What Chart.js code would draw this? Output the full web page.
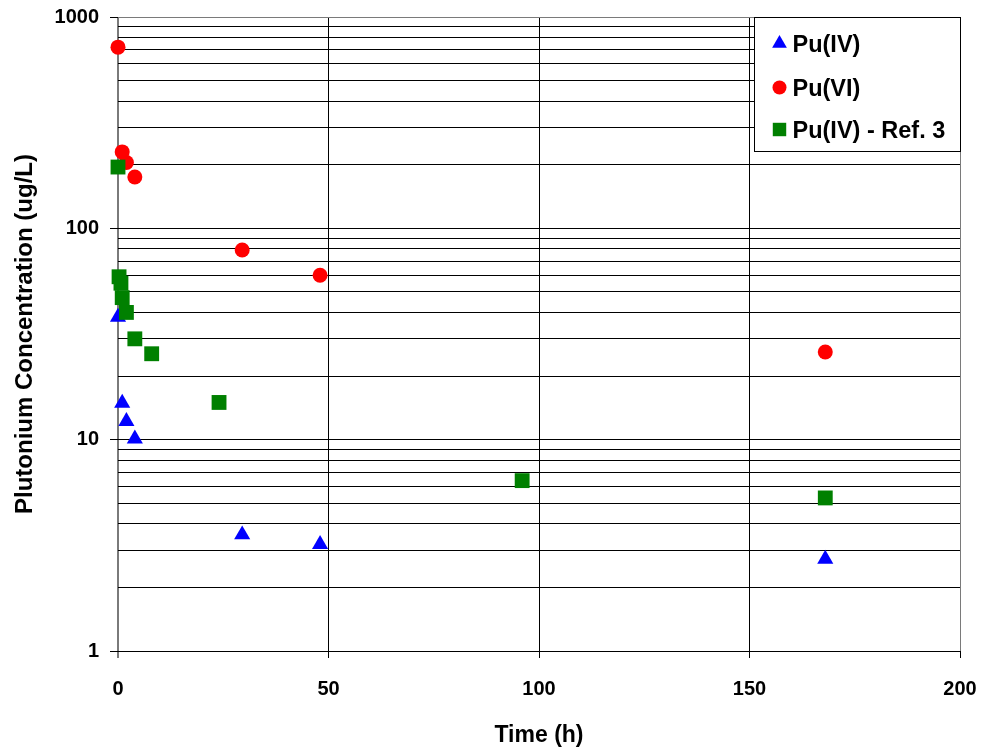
<!DOCTYPE html>
<html>
<head>
<meta charset="utf-8">
<script src="https://cdn.jsdelivr.net/npm/chart.js@4/dist/chart.umd.min.js"></script>
<style>
  html, body { margin: 0; padding: 0; background: #fff; }
  #wrap { width: 982px; height: 750px; position: relative; }
</style>
</head>
<body>
<div id="wrap"><canvas id="c" width="982" height="750"></canvas></div>
<script>
// ---- Data ----
const puIVTime = [0, 1, 2, 4, 29.5, 48, 168];
const puIVConc = [38, 14.9, 12.2, 10.1, 3.55, 3.2, 2.72];

const puVITime = [0, 1, 2, 4, 29.5, 48, 168];
const puVIConc = [720, 230, 205, 175, 79, 60, 26];

const ref3Time = [0, 0.25, 0.7, 1, 2, 4, 8, 24, 96, 168];
const ref3Conc = [195, 59, 55, 47, 40, 30, 25.5, 15, 6.4, 5.3];

const seriesNames = ["Pu(IV)", "Pu(VI)", "Pu(IV) - Ref. 3"];

const xTicks = [0, 50, 100, 150, 200];
const yTickLabels = [1, 10, 100, 1000];
const yMinorMultipliers = [1, 2, 3, 4, 5, 6, 7, 8, 9];

const xTitle = "Time (h)";
const yTitle = "Plutonium Concentration (ug/L)";

// ---- Build chart ----
const FONT = "'Liberation Sans', Arial, sans-serif";
const toPts = (xs, ys) => xs.map((x, i) => ({ x: x, y: ys[i] }));

const datasets = [
  { label: seriesNames[0], data: toPts(puIVTime, puIVConc), pointStyle: 'triangle', clip: false, order: 2,
    backgroundColor: '#0000FF', borderColor: '#0000FF', pointRadius: 9.3, pointBorderWidth: 0, showLine: false },
  { label: seriesNames[1], data: toPts(puVITime, puVIConc), pointStyle: 'circle', clip: false, order: 1,
    backgroundColor: '#FF0000', borderColor: '#FF0000', pointRadius: 7.5, pointBorderWidth: 0, showLine: false },
  { label: seriesNames[2], data: toPts(ref3Time, ref3Conc), pointStyle: 'rect', clip: false, order: 0,
    backgroundColor: '#008000', borderColor: '#008000', pointRadius: 10.5, pointBorderWidth: 0, showLine: false }
];

const legendPlugin = {
  id: 'boxLegend',
  afterDraw(chart) {
    const ctx = chart.ctx;
    const ca = chart.chartArea;
    const w = 206, h = 134;
    const x0 = Math.round(ca.right - w) + 0.5, y0 = Math.round(ca.top) + 0.5;
    ctx.save();
    ctx.fillStyle = '#fff';
    ctx.fillRect(x0, y0, w, h);
    ctx.strokeStyle = '#000';
    ctx.lineWidth = 1;
    ctx.strokeRect(x0, y0, w, h);
    const rowY = [y0 + 27, y0 + 71, y0 + 113];
    ctx.font = "bold 23.5px " + FONT;
    ctx.textBaseline = 'middle';
    ctx.textAlign = 'left';
    chart.data.datasets.forEach((ds, i) => {
      ctx.fillStyle = ds.backgroundColor;
      ctx.strokeStyle = ds.backgroundColor;
      const r = ds.pointStyle === 'rect' ? 9.5 : (ds.pointStyle === 'circle' ? 7 : 8.5);
      Chart.helpers.drawPoint(ctx, { pointStyle: ds.pointStyle, radius: r, rotation: 0, borderWidth: 0 }, x0 + 25, rowY[i] - 1);
      ctx.fillStyle = '#000';
      ctx.fillText(ds.label, x0 + 38, rowY[i] + 1);
    });
    ctx.restore();
  }
};

new Chart(document.getElementById('c'), {
  type: 'scatter',
  data: { datasets: datasets },
  options: {
    responsive: false,
    animation: false,
    devicePixelRatio: 1,
    layout: { padding: { left: 8, top: 17, right: 22, bottom: 0 } },
    plugins: { legend: { display: false }, tooltip: { enabled: false } },
    scales: {
      x: {
        type: 'linear', min: 0, max: 200,
        afterBuildTicks: (s) => { s.ticks = xTicks.map(v => ({ value: v })); },
        afterFit: (s) => { s.height = 99; s.paddingLeft = 0; s.paddingRight = 0; },
        ticks: { font: { family: FONT, size: 20, weight: 'bold' }, color: '#000', padding: 19, maxRotation: 0 },
        grid: {
          color: (c) => (c.tick && (c.tick.value === 0 || c.tick.value === 200)) ? '#7a7a7a' : '#000',
          lineWidth: (c) => (c.tick && c.tick.value === 0) ? 2 : 1,
          tickColor: (c) => (c.tick && c.tick.value === 0) ? '#7a7a7a' : '#000',
          tickLength: 7, drawTicks: true
        },
        border: { display: false },
        title: { display: true, text: xTitle, color: '#000',
                 font: { family: FONT, size: 23, weight: 'bold' }, padding: { top: 4, bottom: 1 } }
      },
      y: {
        type: 'logarithmic', min: 1, max: 1000,
        afterBuildTicks: (s) => {
          const t = [];
          for (let d = 0; d < yTickLabels.length - 1; d++) {
            yMinorMultipliers.forEach(m => t.push({ value: m * yTickLabels[d], major: m === 1 }));
          }
          t.push({ value: yTickLabels[yTickLabels.length - 1], major: true });
          s.ticks = t;
        },
        afterFit: (s) => { s.width = 110; s.paddingTop = 0; s.paddingBottom = 0; },
        ticks: {
          font: { family: FONT, size: 20, weight: 'bold' }, color: '#000', padding: 11,
          autoSkip: false,
          callback: (v) => yTickLabels.includes(v) ? String(v) : ''
        },
        grid: {
          color: (c) => (c.tick && c.tick.value === 1000) ? '#7a7a7a' : '#000',
          lineWidth: 1,
          tickColor: (c) => (c.tick && yTickLabels.includes(c.tick.value)) ? '#000' : 'rgba(0,0,0,0)',
          tickLength: 8, drawTicks: true
        },
        border: { display: false },
        title: { display: true, text: yTitle, color: '#000',
                 font: { family: FONT, size: 24, weight: 'bold' }, padding: { top: 3, bottom: 4 } }
      }
    }
  },
  plugins: [legendPlugin]
});
</script>
</body>
</html>
